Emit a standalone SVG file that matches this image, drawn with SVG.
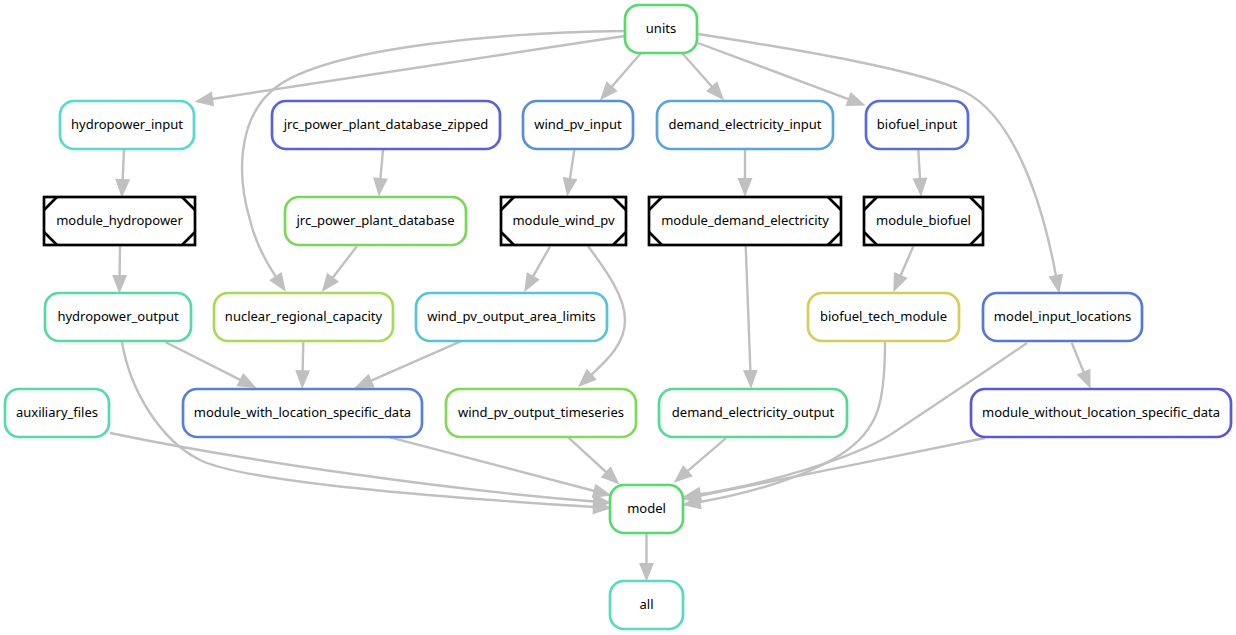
<svg xmlns="http://www.w3.org/2000/svg" width="1236" height="635" viewBox="0 0 1236 635">
<style>
.n rect{fill:#fff;stroke-width:2.7;}
.r rect{rx:14px;ry:14px;}
.m rect{stroke:#000;}
.m path{stroke:#000;stroke-width:2.7;fill:none;}
text{font-family:"Noto Sans","Open Sans","DejaVu Sans",sans-serif;font-size:13px;fill:#000;text-anchor:middle;}
#edges path{fill:none;stroke:#c0c0c0;stroke-width:2.4;marker-end:url(#ah);}
</style>
<defs>
<marker id="ah" markerUnits="userSpaceOnUse" markerWidth="20" markerHeight="16" refX="0" refY="7" orient="auto" overflow="visible">
<path d="M0,1 L15,7 L0,13 Z" fill="#c0c0c0" stroke="#c0c0c0" stroke-width="2"/>
</marker>
</defs>
<rect width="1236" height="635" fill="#fff"/>
<g id="edges">
<path d="M625,36 C480,58 330,80 212,99"/>
<path d="M625,31 C520,32 330,45 275,88 C235,120 238,180 250,220 C256,245 266,262 276,277"/>
<path d="M641,53 L611.5,87"/>
<path d="M682,53 L712.3,87"/>
<path d="M698,43 L849,99.4"/>
<path d="M698,34 C800,50 920,70 965,92 C1010,115 1040,190 1056,276"/>
<path d="M124,150 L122.6,180"/>
<path d="M383,150 L380.4,179"/>
<path d="M574.3,150 L569.9,179"/>
<path d="M745,150 L745,179"/>
<path d="M918.3,150 L920,179"/>
<path d="M120,246 L119.6,276"/>
<path d="M356.7,246.5 L332.5,278"/>
<path d="M550,246.5 L532.8,276.8"/>
<path d="M588,246 C604,268 625,295 625,320 C625,345 605,362 591,375"/>
<path d="M745.7,246 L750.4,371"/>
<path d="M913.3,246.5 L900.4,276"/>
<path d="M165.7,342.3 L240.7,380.1"/>
<path d="M303.3,342.3 L302.6,371.3"/>
<path d="M460,341.7 L370.7,380.9"/>
<path d="M122,342 C130,390 160,440 200,460 C240,480 400,495 594,507"/>
<path d="M885,342 C885,400 880,430 840,455 C800,480 740,495 699.5,502"/>
<path d="M1071.7,342.7 L1083.9,372.5"/>
<path d="M1027,343 C980,375 920,415 890,435 C850,460 760,485 699.8,494.3"/>
<path d="M110,433 C250,462 450,490 594,501.5"/>
<path d="M390,437.3 L594.5,491"/>
<path d="M568.3,437.3 L606.5,472.5"/>
<path d="M725.7,438.3 L687.2,471.3"/>
<path d="M985,438 C900,455 780,480 699.7,495.8"/>
<path d="M646.5,534 L646.5,564"/>
</g>
<g id="units" class="n r"><rect x="625" y="5" width="72" height="48" stroke="#57d96b"/><text x="661" y="33">units</text></g>
<g id="hydropower_input" class="n r"><rect x="60" y="101" width="134" height="48" stroke="#57d9d0"/><text x="127" y="129">hydropower_input</text></g>
<g id="jrc_power_plant_database_zipped" class="n r"><rect x="272" y="101" width="228" height="48" stroke="#5762d9"/><text x="386" y="129">jrc_power_plant_database_zipped</text></g>
<g id="wind_pv_input" class="n r"><rect x="523" y="101" width="110" height="48" stroke="#578fd9"/><text x="578" y="129">wind_pv_input</text></g>
<g id="demand_electricity_input" class="n r"><rect x="657" y="101" width="176" height="48" stroke="#57a5d9"/><text x="745" y="129">demand_electricity_input</text></g>
<g id="biofuel_input" class="n r"><rect x="866" y="101" width="102" height="48" stroke="#576cd9"/><text x="917" y="129">biofuel_input</text></g>
<g id="module_hydropower" class="n m"><rect x="44" y="197" width="151" height="48"/><path d="M44,210 L57,197 M182,197 L195,210 M195,232 L182,245 M57,245 L44,232"/><text x="119.5" y="225">module_hydropower</text></g>
<g id="jrc_power_plant_database" class="n r"><rect x="285" y="197" width="181" height="48" stroke="#79d957"/><text x="375.5" y="225">jrc_power_plant_database</text></g>
<g id="module_wind_pv" class="n m"><rect x="501" y="197" width="125" height="48"/><path d="M501,210 L514,197 M613,197 L626,210 M626,232 L613,245 M514,245 L501,232"/><text x="563.5" y="225">module_wind_pv</text></g>
<g id="module_demand_electricity" class="n m"><rect x="649" y="197" width="192" height="48"/><path d="M649,210 L662,197 M828,197 L841,210 M841,232 L828,245 M662,245 L649,232"/><text x="745" y="225">module_demand_electricity</text></g>
<g id="module_biofuel" class="n m"><rect x="864" y="197" width="119" height="48"/><path d="M864,210 L877,197 M970,197 L983,210 M983,232 L970,245 M877,245 L864,232"/><text x="923.5" y="225">module_biofuel</text></g>
<g id="hydropower_output" class="n r"><rect x="45" y="293" width="146" height="48" stroke="#57d9a5"/><text x="118" y="321">hydropower_output</text></g>
<g id="nuclear_regional_capacity" class="n r"><rect x="214" y="293" width="179" height="48" stroke="#a9d957"/><text x="303.5" y="321">nuclear_regional_capacity</text></g>
<g id="wind_pv_output_area_limits" class="n r"><rect x="416" y="293" width="191" height="48" stroke="#57c3d9"/><text x="511.5" y="321">wind_pv_output_area_limits</text></g>
<g id="biofuel_tech_module" class="n r"><rect x="808" y="293" width="151" height="48" stroke="#d9cb57"/><text x="883.5" y="321">biofuel_tech_module</text></g>
<g id="model_input_locations" class="n r"><rect x="983" y="293" width="159" height="48" stroke="#5778d9"/><text x="1062.5" y="321">model_input_locations</text></g>
<g id="auxiliary_files" class="n r"><rect x="5" y="389" width="104" height="48" stroke="#57d9b0"/><text x="57" y="417">auxiliary_files</text></g>
<g id="module_with_location_specific_data" class="n r"><rect x="183" y="389" width="239" height="48" stroke="#5781d9"/><text x="302.5" y="417">module_with_location_specific_data</text></g>
<g id="wind_pv_output_timeseries" class="n r"><rect x="446" y="389" width="190" height="48" stroke="#83d957"/><text x="541" y="417">wind_pv_output_timeseries</text></g>
<g id="demand_electricity_output" class="n r"><rect x="659" y="389" width="188" height="48" stroke="#57d994"/><text x="753" y="417">demand_electricity_output</text></g>
<g id="module_without_location_specific_data" class="n r"><rect x="971" y="389" width="260" height="48" stroke="#5a57d9"/><text x="1101" y="417">module_without_location_specific_data</text></g>
<g id="model" class="n r"><rect x="610" y="485" width="73" height="48" stroke="#57d970"/><text x="646.5" y="513">model</text></g>
<g id="all" class="n r"><rect x="610" y="581" width="73" height="48" stroke="#57d9c6"/><text x="646.5" y="609">all</text></g>
</svg>
